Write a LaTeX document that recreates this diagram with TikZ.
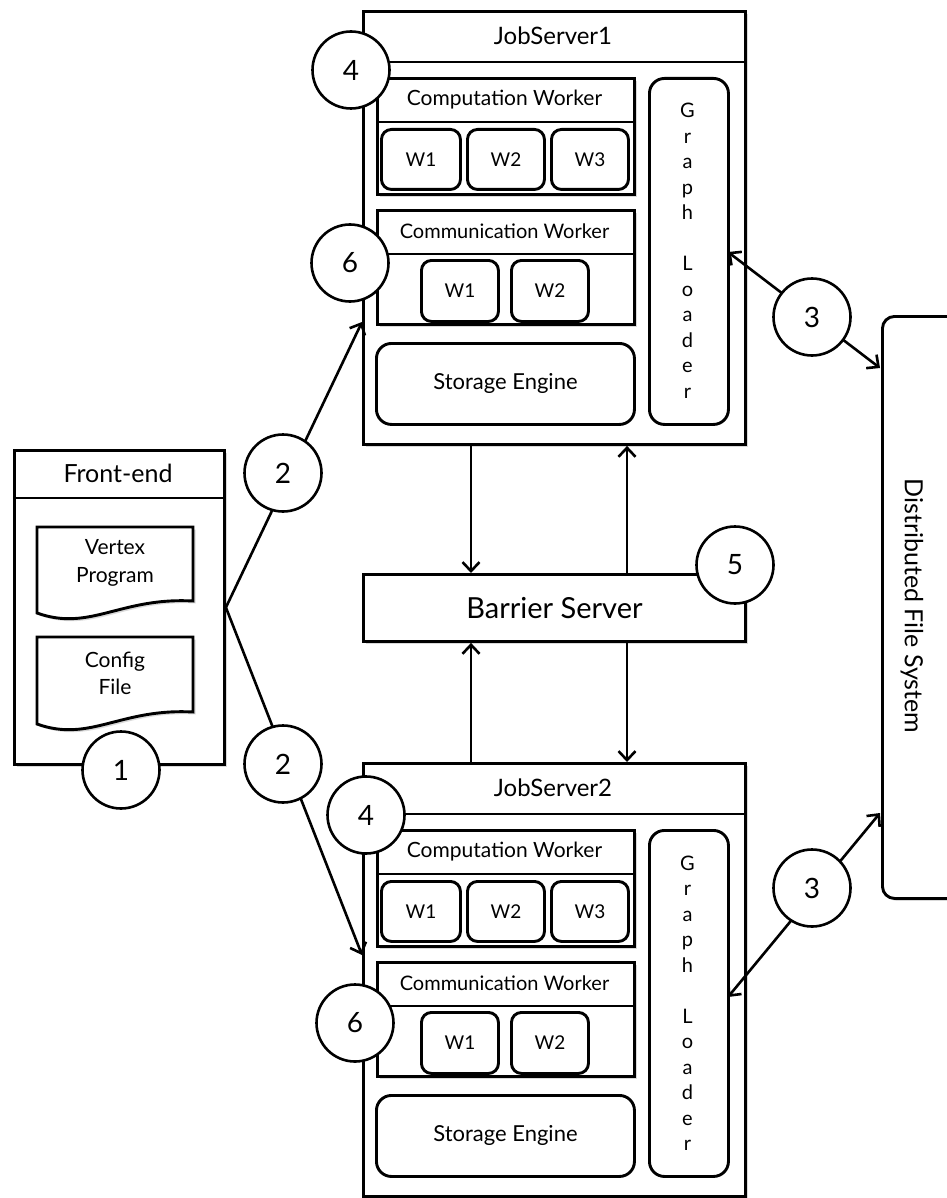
\documentclass[tikz,border=0pt]{standalone}
\usepackage{fontspec}
\setmainfont{Lato}
\usetikzlibrary{arrows.meta,shadows,calc}

\newcommand\fsz[1]{\fontsize{#1}{#1}\selectfont}

% one job server: outer frame with title, computation and communication
% workers, storage engine and graph loader
\newcommand\jobserverbox[2]{%
  \node[box,shade,minimum width=382pt,minimum height=433pt,anchor=north west] (#1-outer) at (362,10) {};
  \draw[lw] (362,62) -- (744,62);
  \node[font=\fsz{24}] (#1-title) at (553,36) {#2};
  % computation worker
  \node[box,shade,minimum width=257pt,minimum height=116pt,anchor=north west] (#1-comp) at (376,77) {};
  \draw[lw] (376,122) -- (633,122);
  \node[font=\fsz{21}] (#1-comptitle) at (504.5,100) {Computation Worker};
  \node[wbox,anchor=north west,minimum width=79pt] (#1-cw1) at (380,128) {W1};
  \node[wbox,anchor=north west,minimum width=77pt] (#1-cw2) at (466,128) {W2};
  \node[wbox,anchor=north west,minimum width=77pt] (#1-cw3) at (550,128) {W3};
  % communication worker
  \node[box,shade,minimum width=257pt,minimum height=114pt,anchor=north west] (#1-comm) at (376,209) {};
  \draw[lw] (376,254) -- (633,254);
  \node[font=\fsz{20}] (#1-commtitle) at (504.5,231) {Communication Worker};
  \node[wbox,anchor=north west,minimum width=77pt,minimum height=61pt] (#1-mw1) at (420,259) {W1};
  \node[wbox,anchor=north west,minimum width=77pt,minimum height=61pt] (#1-mw2) at (510,259) {W2};
  % storage engine
  \node[box,rounded corners=15pt,minimum width=258pt,minimum height=81pt,anchor=north west,
        font=\fsz{22}] (#1-store) at (375,342) {Storage Engine};
  % graph loader
  \node[box,rounded corners=15pt,minimum width=79pt,minimum height=346pt,anchor=north west] (#1-gl) at (648,77) {};
  \node[font=\fontsize{20}{25.5}\selectfont,align=center] (#1-gltext) at (687.5,251)
    {G\\r\\a\\p\\h\\[25.5pt]L\\o\\a\\d\\e\\r};
}

\begin{document}
\begin{tikzpicture}[x=1pt,y=-1pt,
  lw/.style={line width=2.9pt},
  box/.style={draw,line width=2.9pt,fill=white,inner sep=0pt},
  shade/.style={drop shadow={shadow xshift=2.5pt,shadow yshift=-2.5pt,opacity=0.15,fill=black}},
  wbox/.style={box,rounded corners=10pt,minimum height=60pt,font=\fsz{19}},
  num/.style={draw,circle,line width=2.6pt,fill=white,minimum size=77pt,inner sep=0pt,font=\fsz{28}},
  arr/.style={line width=2.6pt,-{Straight Barb[length=9pt,width=17pt]}},
  darr/.style={line width=2.6pt,{Straight Barb[length=9pt,width=17pt]}-{Straight Barb[length=9pt,width=17pt]}},
]
\useasboundingbox (0,0) rectangle (946,1198);

% job servers
\begin{scope}
  \jobserverbox{js1}{JobServer1}
\end{scope}
\begin{scope}[shift={(0,752)}]
  \jobserverbox{js2}{JobServer2}
\end{scope}

% front-end with its two documents
\node[box,shade,minimum width=210pt,minimum height=314pt,anchor=north west] (fe) at (13,449) {};
\draw[lw] (13,498) -- (223,498);
\node[font=\fsz{25}] (fetitle) at (118,473) {Front-end};
\draw[box,shade] (37,527) -- (193,527) -- (193,601)
  .. controls (120,597) and (90,632) .. (37,613) -- cycle;
\node[font=\fontsize{21}{28}\selectfont,align=center] (vp) at (115,563) {Vertex\\Program};
\draw[box,shade] (37,637) -- (193,637) -- (193,712)
  .. controls (120,708) and (90,743) .. (37,724) -- cycle;
\node[font=\fontsize{21}{27}\selectfont,align=center] (cf) at (115,673) {Config\\File};

% barrier server
\node[box,shade,minimum width=382pt,minimum height=67pt,anchor=north west,font=\fsz{29}] (barrier) at (362,573) {Barrier Server};

% distributed file system
\node[box,shade,rounded corners=12pt,minimum width=100pt,minimum height=582pt,anchor=north west] (dfs) at (881,315) {};
\node[font=\fsz{25},rotate=-90] (dfstext) at (912,606) {Distributed File System};

% connector end points
\coordinate (js1-in) at (362,322);
\coordinate (js2-in) at (362,955);
\coordinate (colA) at (471,0);
\coordinate (colB) at (627,0);
\coordinate (gl1-port) at (728,252);
\coordinate (gl2-port) at (728,997);
\coordinate (dfs-port1) at (880,368);
\coordinate (dfs-port2) at (880,813);

% front-end to job servers
\draw[arr] (fe.east) -- (js1-in);
\draw[arr] (fe.east) -- (js2-in);

% job servers and barrier server
\draw[arr] (js1-outer.south -| colA) -- (barrier.north -| colA);
\draw[arr] (barrier.north -| colB) -- (js1-outer.south -| colB);
\draw[arr] (js2-outer.north -| colA) -- (barrier.south -| colA);
\draw[arr] (barrier.south -| colB) -- (js2-outer.north -| colB);

% graph loaders and file system
\draw[darr] (gl1-port) -- (dfs-port1);
\draw[darr] (dfs-port2) -- (gl2-port);

% step numbers
\node[num] (n1) at (121,770) {1};
\node[num] (n2a) at (283,473) {2};
\node[num] (n2b) at (283,764) {2};
\node[num] (n3a) at (812,317) {3};
\node[num] (n3b) at (812,888) {3};
\node[num] (n4a) at (351,70) {4};
\node[num] (n4b) at (366,815) {4};
\node[num] (n5) at (735,565) {5};
\node[num] (n6a) at (350,263) {6};
\node[num] (n6b) at (355,1023) {6};
\end{tikzpicture}
\end{document}
